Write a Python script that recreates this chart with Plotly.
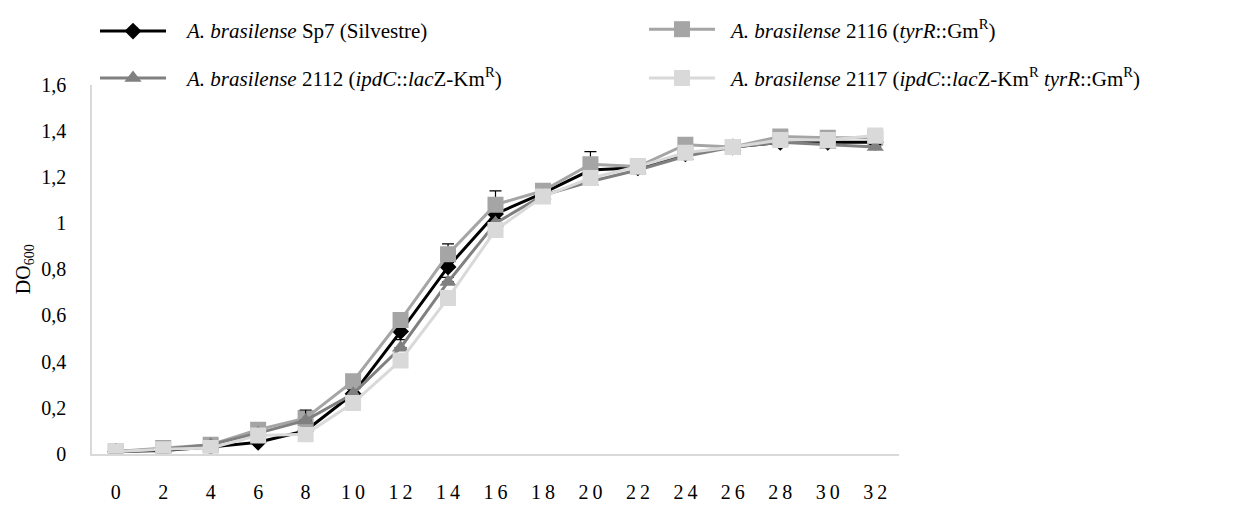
import plotly.graph_objects as go

# Growth curves (DO600) of A. brasilense strains over time (h)
hours = [0, 2, 4, 6, 8, 10, 12, 14, 16, 18, 20, 22, 24, 26, 28, 30, 32]

sp7 = [0.01, 0.015, 0.03, 0.05, 0.10, 0.26, 0.53, 0.81, 1.04, 1.13, 1.23, 1.24, 1.30, 1.33, 1.35, 1.35, 1.35]
s2116 = [0.01, 0.025, 0.04, 0.105, 0.155, 0.315, 0.58, 0.865, 1.08, 1.14, 1.255, 1.245, 1.34, 1.33, 1.375, 1.37, 1.37]
s2112 = [0.01, 0.02, 0.04, 0.09, 0.145, 0.26, 0.46, 0.745, 1.00, 1.12, 1.18, 1.23, 1.29, 1.33, 1.35, 1.34, 1.33]
s2117 = [0.01, 0.02, 0.025, 0.08, 0.085, 0.22, 0.405, 0.675, 0.97, 1.115, 1.195, 1.245, 1.305, 1.33, 1.36, 1.36, 1.38]

# standard deviations (upper bars)
sp7_err = [0.005, 0.005, 0.01, 0.01, 0.02, 0.02, 0.02, 0.02, 0.02, 0.01, 0.02, 0.01, 0.01, 0.01, 0.01, 0.01, 0.01]
s2116_err = [0.005, 0.005, 0.01, 0.01, 0.01, 0.01, 0.02, 0.045, 0.06, 0.01, 0.055, 0.01, 0.01, 0.01, 0.01, 0.01, 0.01]
s2112_err = [0.005, 0.005, 0.01, 0.01, 0.045, 0.01, 0.035, 0.02, 0.02, 0.01, 0.02, 0.01, 0.01, 0.01, 0.01, 0.01, 0.01]
s2117_err = [0.005, 0.005, 0.005, 0.01, 0.01, 0.01, 0.01, 0.01, 0.01, 0.01, 0.01, 0.01, 0.01, 0.01, 0.01, 0.01, 0.01]

y_ticks = [0, 0.2, 0.4, 0.6, 0.8, 1.0, 1.2, 1.4, 1.6]
y_tick_text = ["0", "0,2", "0,4", "0,6", "0,8", "1", "1,2", "1,4", "1,6"]
x_tick_text = ["\u2009".join(str(h)) for h in hours]

names = [
    "<i>A. brasilense</i> Sp7 (Silvestre)",
    "<i>A. brasilense</i> 2116 (<i>tyrR</i>::Gm<sup>R</sup>)",
    "<i>A. brasilense</i> 2112 (<i>ipdC</i>::<i>lac</i>Z-Km<sup>R</sup>)",
    "<i>A. brasilense</i> 2117 (<i>ipdC</i>::<i>lac</i>Z-Km<sup>R</sup> <i>tyrR</i>::Gm<sup>R</sup>)",
]
series = [sp7, s2116, s2112, s2117]
errors = [sp7_err, s2116_err, s2112_err, s2117_err]
colors = ["#000000", "#a5a5a5", "#808080", "#d9d9d9"]
symbols = ["diamond", "square", "triangle-up", "square"]
sizes = [13, 16, 15, 16]

FONT = "Liberation Serif, Times New Roman, serif"
W, H = 1236, 506

fig = go.Figure()

for vals, err, col, sym, sz, nm in zip(series, errors, colors, symbols, sizes, names):
    fig.add_trace(go.Scatter(
        x=hours, y=vals, mode="lines+markers", name=nm,
        line=dict(color=col, width=3),
        marker=dict(symbol=sym, size=sz, color=col, line=dict(width=0)),
        error_y=dict(type="data", symmetric=False, array=err,
                     arrayminus=[0] * len(err), color="#000000",
                     thickness=1.2, width=6),
        showlegend=False,
    ))

# legend drawn in pixel coordinates on an overlay axis pair: (line start, row, text start)
legend_pos = [(100, 21, 183), (649, 19, 727), (100, 70, 183), (649, 70, 727)]
for (lx, ly, tx), col, sym, sz, nm in zip(legend_pos, colors, symbols, sizes, names):
    fig.add_trace(go.Scatter(
        x=[lx, lx + 66], y=[ly, ly], mode="lines", xaxis="x2", yaxis="y2",
        line=dict(color=col, width=3), showlegend=False, hoverinfo="skip",
    ))
    fig.add_trace(go.Scatter(
        x=[lx + 33], y=[ly], mode="markers", xaxis="x2", yaxis="y2",
        marker=dict(symbol=sym, size=sz, color=col, line=dict(width=0)),
        showlegend=False, hoverinfo="skip",
    ))
    fig.add_annotation(
        x=tx, y=ly, xref="x2", yref="y2", text=nm, showarrow=False,
        xanchor="left", yanchor="middle", font=dict(family=FONT, size=21, color="#000000"),
    )

fig.add_annotation(
    x=24 / W, y=1 - 270 / H, xref="paper", yref="paper", text="DO<sub>600</sub>",
    textangle=-90, showarrow=False, xanchor="center", yanchor="middle",
    font=dict(family=FONT, size=20, color="#000000"),
)

fig.update_layout(
    width=W, height=H,
    margin=dict(l=0, r=0, t=0, b=0, pad=0),
    paper_bgcolor="#ffffff", plot_bgcolor="rgba(0,0,0,0)",
    font=dict(family=FONT, size=20, color="#000000"),
    xaxis=dict(
        domain=[92 / W, 899 / W], range=[-1, 33],
        tickmode="array", tickvals=hours, ticktext=x_tick_text,
        showline=True, linecolor="#d9d9d9", linewidth=1.5,
        showgrid=False, zeroline=False, ticks="", ticklabelstandoff=19,
        tickfont=dict(family=FONT, size=20, color="#000000"), anchor="y",
    ),
    yaxis=dict(
        domain=[43 / H, 429 / H], range=[0, 1.6],
        tickmode="array", tickvals=y_ticks, ticktext=y_tick_text,
        showline=True, linecolor="#d9d9d9", linewidth=1.5,
        showgrid=False, zeroline=False, ticks="", ticklabelstandoff=20,
        tickfont=dict(family=FONT, size=20, color="#000000"), anchor="x",
    ),
    xaxis2=dict(domain=[0, 1], range=[0, W], visible=False, fixedrange=True, anchor="y2"),
    yaxis2=dict(domain=[0, 1], range=[H, 0], visible=False, fixedrange=True, anchor="x2"),
)

fig.write_html("out.html")
